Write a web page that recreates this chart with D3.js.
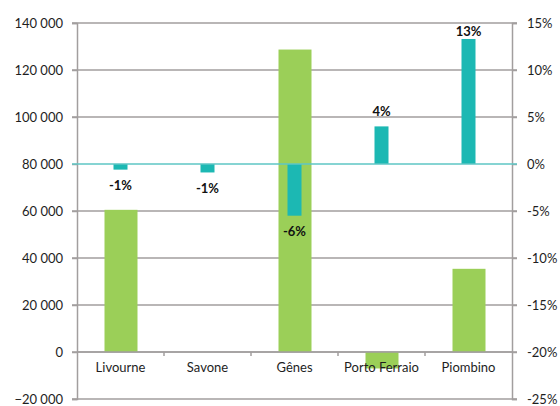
<!DOCTYPE html>
<html><head><meta charset="utf-8">
<script src="https://cdn.jsdelivr.net/npm/d3@7"></script>
<style>body{margin:0;background:#fff}svg{display:block}text{font-family:Lato,"Open Sans",sans-serif}</style>
</head><body>
<script>
const categories = ["Livourne","Savone","Gênes","Porto Ferraio","Piombino"];
const volumes = [60500, 0, 128700, -7000, 35400];
const changes = [-0.6, -0.9, -5.5, 4.0, 13.3];
const changeLabels = ["-1%","-1%","-6%","4%","13%"];
const leftTicks = [-20000,0,20000,40000,60000,80000,100000,120000,140000];
const rightTicks = [-25,-20,-15,-10,-5,0,5,10,15];

const W=560,H=406, L=77, R=512, T=23, B=399;
const svg=d3.select("body").append("svg").attr("width",W).attr("height",H);
const x=d3.scaleBand().domain(categories).range([L,R]);
const yL=d3.scaleLinear().domain([-20000,140000]).range([B,T]);
const yR=d3.scaleLinear().domain([-25,15]).range([B,T]);
const grid="#a29e9e", green="#9bcf58", teal="#1cb8b3", txt="#1e1e1e";
const fmt=v=>d3.format(",")(v).replace(/,/g," ");

// gridlines
svg.append("g").selectAll("line").data(leftTicks.filter(v=>v!==80000)).join("line")
  .attr("x1",L-5).attr("x2",R+5).attr("y1",d=>yL(d)).attr("y2",d=>yL(d))
  .attr("stroke",grid).attr("stroke-width",1.5);
// left axis
const la=svg.append("g").attr("transform",`translate(${L},0)`)
  .call(d3.axisLeft(yL).tickValues(leftTicks).tickSize(5).tickPadding(9).tickFormat(fmt));
la.select(".domain").attr("stroke",grid).attr("stroke-width",1.5);
la.selectAll(".tick line").attr("stroke",grid).attr("stroke-width",1.5);
la.selectAll("text").attr("font-size",13).attr("fill",txt);
// right axis
const ra=svg.append("g").attr("transform",`translate(${R},0)`)
  .call(d3.axisRight(yR).tickValues(rightTicks).tickSize(5).tickPadding(10).tickFormat(d=>d+"%"));
ra.select(".domain").attr("stroke",grid).attr("stroke-width",1.5);
ra.selectAll(".tick line").attr("stroke",grid).attr("stroke-width",1.5);
ra.selectAll("text").attr("font-size",13).attr("fill",txt);

// green bars
const gw=33;
svg.append("g").selectAll("rect").data(volumes).join("rect")
  .attr("x",(d,i)=>x(categories[i])+x.bandwidth()/2-gw/2+0.5).attr("width",gw)
  .attr("y",d=>Math.min(yL(d),yL(0))).attr("height",d=>Math.abs(yL(d)-yL(0)))
  .attr("fill",green);

// category axis
svg.append("line").attr("x1",L).attr("x2",R).attr("y1",yL(0)).attr("y2",yL(0)).attr("stroke",grid).attr("stroke-width",1.5);
svg.append("g").selectAll("line").data(d3.range(1,categories.length)).join("line")
  .attr("x1",i=>L+i*x.step()).attr("x2",i=>L+i*x.step()).attr("y1",yL(0)).attr("y2",yL(0)+4)
  .attr("stroke",grid).attr("stroke-width",1.5);
svg.append("g").selectAll("text").data(categories).join("text")
  .attr("x",d=>x(d)+x.bandwidth()/2).attr("y",yL(0)+20)
  .attr("text-anchor","middle").attr("font-size",13).attr("fill",txt).text(d=>d);

// teal bars
const tw=14;
svg.append("g").selectAll("rect").data(changes).join("rect")
  .attr("x",(d,i)=>x(categories[i])+x.bandwidth()/2-tw/2).attr("width",tw)
  .attr("y",d=>Math.min(yR(d),yR(0))).attr("height",d=>Math.abs(yR(d)-yR(0)))
  .attr("fill",teal);
// teal zero line
svg.append("line").attr("x1",L-5).attr("x2",R+5).attr("y1",yR(0)).attr("y2",yR(0)).attr("stroke","#5ec6c4").attr("stroke-width",1.5);

// labels
svg.append("g").selectAll("text").data(changes).join("text")
  .attr("x",(d,i)=>x(categories[i])+x.bandwidth()/2)
  .attr("y",d=>d>=0?Math.max(yR(d)-15,31):yR(d)+16)
  .attr("dy","0.35em").attr("text-anchor","middle").attr("font-size",13).attr("font-weight","bold")
  .attr("fill","#111").text((d,i)=>changeLabels[i]);
</script>
</body></html>
